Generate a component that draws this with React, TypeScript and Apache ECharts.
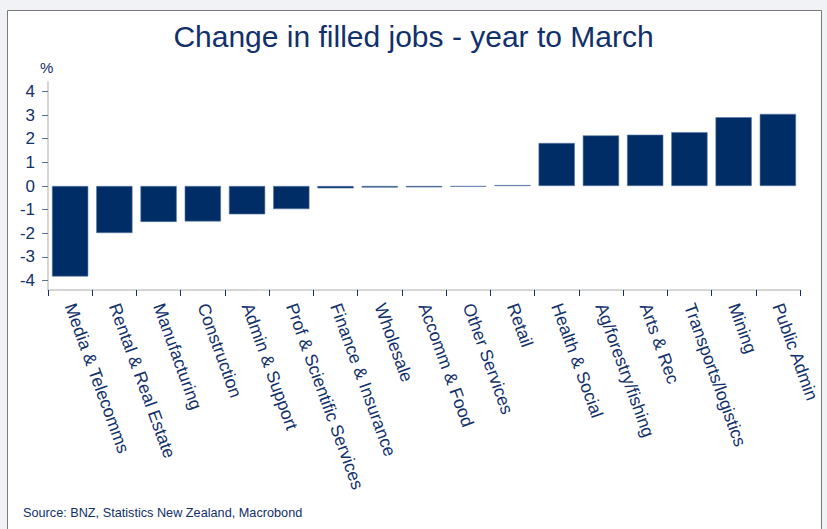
import React, { useEffect, useRef } from "react";
import * as echarts from "echarts";

const categories = [
  "Media & Telecomms",
  "Rental & Real Estate",
  "Manufacturing",
  "Construction",
  "Admin & Support",
  "Prof & Scientific Services",
  "Finance & Insurance",
  "Wholesale",
  "Accomm & Food",
  "Other Services",
  "Retail",
  "Health & Social",
  "Ag/forestry/fishing",
  "Arts & Rec",
  "Transports/logistics",
  "Mining",
  "Public Admin",
];
const changes = [-3.83, -1.99, -1.52, -1.5, -1.2, -0.98, -0.1, -0.07, -0.06, -0.03, 0.04, 1.82, 2.14, 2.17, 2.28, 2.91, 3.05];
const yTicks = [-4, -3, -2, -1, 0, 1, 2, 3, 4];

const NAVY = "#002d66";
const TEXT = "#12306a";
const FONT = "Liberation Sans, Arial, sans-serif";

export default function App() {
  const ref = useRef<HTMLDivElement>(null);
  useEffect(() => {
    const chart = echarts.init(ref.current!, null, { renderer: "svg" });
    chart.setOption({
      animation: false,
      backgroundColor: "#f1f2f6",
      textStyle: { fontFamily: FONT },
      graphic: [
        {
          type: "rect",
          z: -10,
          silent: true,
          shape: { x: 7.5, y: 10.5, width: 814, height: 530 },
          style: { fill: "#ffffff", stroke: "#7a7a7a", lineWidth: 1 },
        },
        {
          type: "text",
          left: "center",
          top: 21,
          style: { text: "Change in filled jobs - year to March", fontSize: 30, fill: TEXT, fontFamily: FONT },
        },
        {
          type: "text",
          left: 40,
          top: 60,
          style: { text: "%", fontSize: 15, fill: TEXT, fontFamily: FONT },
        },
        {
          type: "text",
          left: 23,
          top: 506,
          style: { text: "Source: BNZ, Statistics New Zealand, Macrobond", fontSize: 12.7, fill: TEXT, fontFamily: FONT },
        },
      ],
      grid: { left: 48, right: 27, top: 82, bottom: 239, containLabel: false },
      xAxis: {
        type: "category",
        data: categories,
        position: "bottom",
        axisLine: { onZero: false, lineStyle: { color: "#c8c8c8", width: 1.5 } },
        axisTick: { show: true, length: 6, lineStyle: { color: TEXT } },
        axisLabel: { rotate: -70, interval: 0, fontSize: 17.6, color: TEXT, margin: 14 },
        splitLine: { show: false },
      },
      yAxis: {
        type: "value",
        min: -4.4,
        max: 4.4,
        axisLine: { show: true, lineStyle: { color: "#c8c8c8", width: 1.5 } },
        axisTick: { show: true, length: 6, customValues: yTicks, lineStyle: { color: "#5a6f94" } },
        axisLabel: { customValues: yTicks, fontSize: 17, color: TEXT, margin: 13 },
        splitLine: { show: false },
      },
      series: [
        {
          type: "bar",
          data: changes,
          barCategoryGap: "18%",
          itemStyle: { color: NAVY, borderColor: "#5a7aa6", borderWidth: 0.6 },
        },
      ],
    });
    return () => chart.dispose();
  }, []);
  return <div ref={ref} style={{ position: "absolute", left: 0, top: 0, width: 827, height: 529 }} />;
}
